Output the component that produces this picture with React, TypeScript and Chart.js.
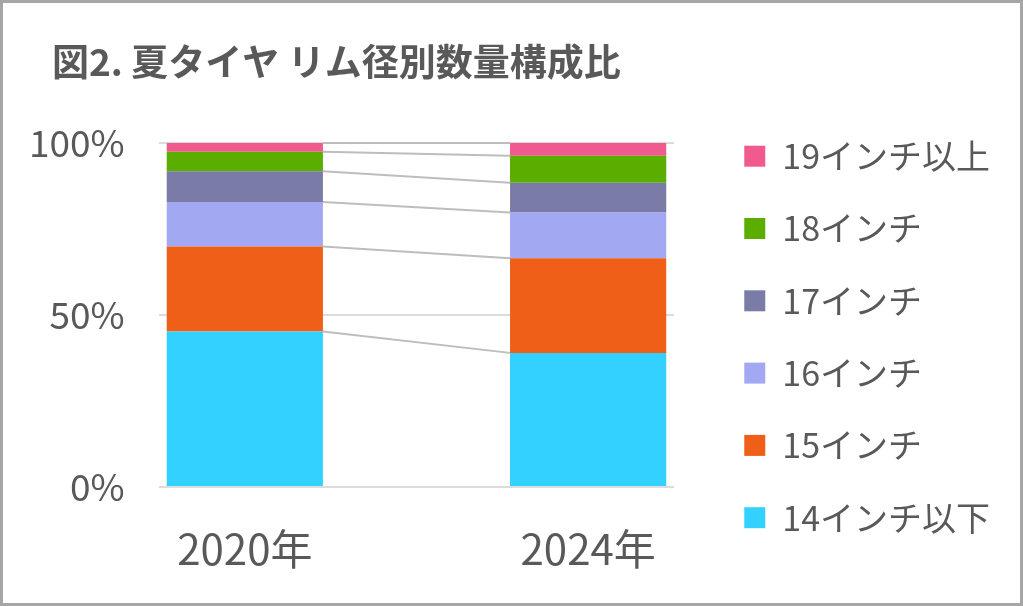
import React, { useEffect, useRef } from 'react';
import { Chart, registerables } from 'chart.js';

Chart.register(...registerables);

const titleText = '図2. 夏タイヤ リム径別数量構成比';
const categories = ['2020年', '2024年'];
const seriesNames = ['14インチ以下', '15インチ', '16インチ', '17インチ', '18インチ', '19インチ以上'];
const inch14 = [45.2, 39.0];
const inch15 = [24.7, 27.5];
const inch16 = [13.0, 13.3];
const inch17 = [8.9, 8.7];
const inch18 = [5.7, 7.8];
const inch19 = [2.5, 3.7];
const yTickValues = [0, 50, 100];

const seriesValues = [inch14, inch15, inch16, inch17, inch18, inch19];
const seriesColors = ['#33D1FF', '#EF5F18', '#A3A8F3', '#7A7CA7', '#5BAD00', '#F05A8F'];

const FONT = "'Noto Sans CJK JP', 'Noto Sans', sans-serif";
const TEXT = '#595959';

const seriesLinesPlugin = {
  id: 'seriesLines',
  afterDatasetsDraw(chart: any) {
    const ctx = chart.ctx;
    ctx.save();
    ctx.strokeStyle = '#BDBDBD';
    ctx.lineWidth = 2;
    chart.data.datasets.forEach((_ds: any, i: number) => {
      const meta = chart.getDatasetMeta(i);
      for (let j = 0; j < meta.data.length - 1; j++) {
        const a = meta.data[j].getProps(['x', 'y', 'width'], true);
        const b = meta.data[j + 1].getProps(['x', 'y', 'width'], true);
        ctx.beginPath();
        ctx.moveTo(a.x + a.width / 2, a.y);
        ctx.lineTo(b.x - b.width / 2, b.y);
        ctx.stroke();
      }
    });
    ctx.restore();
  },
};

export default function App() {
  const ref = useRef<HTMLCanvasElement | null>(null);

  useEffect(() => {
    if (!ref.current) return;
    const datasets = seriesNames.map((name, k) => ({
      label: name,
      data: categories.map((_, i) => ({ x: i, y: seriesValues[k][i] })),
      backgroundColor: seriesColors[k],
      borderWidth: 0,
      barPercentage: 0.455,
      categoryPercentage: 1,
    }));

    const chart = new Chart(ref.current, {
      type: 'bar',
      data: { datasets } as any,
      plugins: [seriesLinesPlugin],
      options: {
        responsive: false,
        animation: false,
        layout: { padding: { left: 49, right: 20, top: 0, bottom: 30 } },
        plugins: {
          title: {
            display: true,
            text: titleText,
            align: 'start',
            color: TEXT,
            font: { family: FONT, size: 37, weight: 'bold' },
            padding: { top: 36.5, bottom: 59.2 },
          },
          legend: {
            position: 'right',
            align: 'end',
            reverse: true,
            maxWidth: 340,
            labels: {
              boxWidth: 21,
              boxHeight: 21,
              padding: 38.3,
              color: TEXT,
              font: { family: FONT, size: 34 },
            },
          },
          tooltip: { enabled: false },
        },
        scales: {
          x: {
            type: 'linear',
            stacked: true,
            offset: false,
            min: -0.25,
            max: 1.25,
            grid: { display: false, drawTicks: false, offset: false },
            border: { display: false },
            afterBuildTicks: (s: any) => {
              s.ticks = categories.map((_, i) => ({ value: i }));
            },
            ticks: {
              color: TEXT,
              font: { family: FONT, size: 42 },
              padding: 36.5,
              maxRotation: 0,
              autoSkip: false,
              callback: (v: any) => categories[v] ?? '',
            },
            afterFit: (s: any) => {
              s.height = 86;
            },
          },
          y: {
            stacked: true,
            min: 0,
            max: 100,
            afterBuildTicks: (s: any) => {
              s.ticks = yTickValues.map((v) => ({ value: v }));
            },
            grid: { color: '#DCDCDC', lineWidth: 2, drawTicks: false },
            border: { display: false },
            ticks: {
              color: TEXT,
              font: { family: FONT, size: 37 },
              mirror: true,
              crossAlign: 'far',
              padding: -130,
              callback: (v: any) => v + '%',
            },
            afterFit: (s: any) => {
              s.width = 107;
            },
          },
          gap: {
            type: 'linear',
            position: 'right',
            display: true,
            grid: { display: false, drawTicks: false },
            border: { display: false },
            ticks: { display: false },
            afterFit: (s: any) => {
              s.width = 32;
            },
          },
        },
      } as any,
    });
    return () => chart.destroy();
  }, []);

  return (
    <div
      style={{
        position: 'fixed',
        left: 0,
        top: 0,
        width: 1023,
        height: 606,
        boxSizing: 'border-box',
        border: '3px solid #A6A6A6',
        background: '#FFFFFF',
      }}
    >
      <canvas ref={ref} width={1017} height={600} style={{ display: 'block' }} />
    </div>
  );
}
